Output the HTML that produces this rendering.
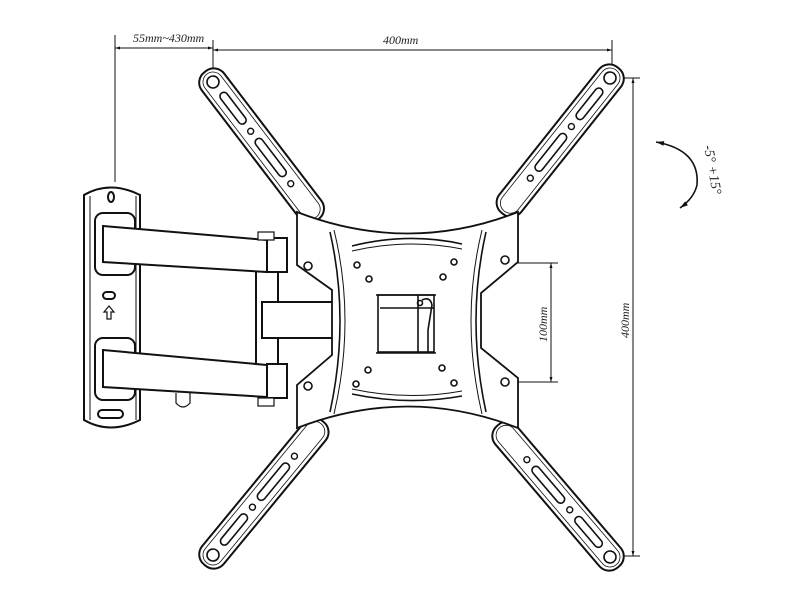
<!DOCTYPE html>
<html><head><style>body{margin:0;background:#fff}svg{display:block}text{font-family:"Liberation Serif",serif;font-style:italic;font-size:12px;fill:#222}</style></head>
<body>
<svg width="800" height="600" viewBox="0 0 800 600" xmlns="http://www.w3.org/2000/svg">
<defs>
<marker id="ar" viewBox="0 0 10 10" refX="10" refY="5" markerWidth="8" markerHeight="5" orient="auto-start-reverse"><path d="M0,2 L10,5 L0,8z" fill="#111"/></marker>
<g id="arm">
<rect x="-13" y="-14" width="186" height="28" rx="13" fill="#fff" stroke="#111" stroke-width="2"/>
<rect x="-10" y="-10" width="180" height="20" rx="10" fill="none" stroke="#111" stroke-width="0.8"/>
<circle cx="0" cy="0" r="6" fill="none" stroke="#111" stroke-width="1.6"/>
<rect x="14" y="-4" width="38" height="8" rx="4" fill="none" stroke="#111" stroke-width="1.6"/>
<circle cx="62" cy="0" r="3" fill="none" stroke="#111" stroke-width="1.4"/>
<rect x="72" y="-4" width="46" height="8" rx="4" fill="none" stroke="#111" stroke-width="1.6"/>
<circle cx="128" cy="0" r="3" fill="none" stroke="#111" stroke-width="1.4"/>
</g>
</defs>
<g stroke="#111" fill="none" stroke-width="1">
<line x1="115" y1="35" x2="115" y2="182"/>
<line x1="213" y1="40" x2="213" y2="80"/>
<line x1="612" y1="40" x2="612" y2="72"/>
<line x1="115" y1="48" x2="213" y2="48" marker-start="url(#ar)" marker-end="url(#ar)"/>
<line x1="213" y1="50" x2="612" y2="50" marker-start="url(#ar)" marker-end="url(#ar)"/>
<line x1="612" y1="78" x2="640" y2="78"/>
<line x1="612" y1="556" x2="640" y2="556"/>
<line x1="633" y1="78" x2="633" y2="556" marker-start="url(#ar)" marker-end="url(#ar)"/>
<line x1="510" y1="263" x2="558" y2="263"/>
<line x1="510" y1="382" x2="558" y2="382"/>
<line x1="551" y1="263" x2="551" y2="382" marker-start="url(#ar)" marker-end="url(#ar)"/>
<path d="M656,142 Q700,150 697,185 Q694,198 680,208" stroke-width="1.6" marker-start="url(#ar)" marker-end="url(#ar)"/>
</g>
<text x="133" y="42">55mm~430mm</text>
<text x="383" y="44">400mm</text>
<text transform="translate(629,338) rotate(-90)">400mm</text>
<text transform="translate(547,342) rotate(-90)">100mm</text>
<text transform="translate(704,146) rotate(80)" style="font-size:14px">-5° +15°</text>

<use href="#arm" transform="translate(213,82) rotate(52.6)"/>
<use href="#arm" transform="translate(610,78) rotate(128.5)"/>
<use href="#arm" transform="translate(213,555) rotate(-50.5)"/>
<use href="#arm" transform="translate(610,557) rotate(-130.5)"/>

<g stroke="#111" fill="#fff" stroke-width="2">
<path d="M84,195 Q110,180 140,195 L140,420 Q110,435 84,420 Z"/>
<line x1="90" y1="196" x2="90" y2="420" stroke-width="1"/>
<line x1="136" y1="196" x2="136" y2="420" stroke-width="1"/>
<ellipse cx="111" cy="197" rx="3" ry="5" fill="none"/>
<rect x="103" y="292" width="12" height="7" rx="3.5" fill="none"/>
<path d="M109,306 l-5,6 h3 v7 h4 v-7 h3 z" fill="none" stroke-width="1.2"/>
<rect x="98" y="410" width="25" height="8" rx="4" fill="none"/>
<rect x="95" y="213" width="40" height="62" rx="8"/>
<rect x="95" y="338" width="40" height="62" rx="8"/>
<rect x="256" y="270" width="22" height="100"/>
<rect x="262" y="302" width="80" height="36"/>
<path d="M103,226 L267,240 L267,272 L103,262 Z"/>
<rect x="267" y="238" width="20" height="34"/>
<rect x="258" y="232" width="16" height="8" stroke-width="1.2"/>
<path d="M103,350 L267,365 L267,397 L103,387 Z"/>
<rect x="267" y="364" width="20" height="34"/>
<rect x="258" y="398" width="16" height="8" stroke-width="1.2"/>
<path d="M176,393 v10 q7,8 14,0 v-10" fill="none" stroke-width="1.2"/>
</g>

<g stroke="#111" fill="#fff" stroke-width="1.8">
<path d="M297,212 Q408,255 518,212 L518,262 L481,293 L481,348 L518,378 L518,428 Q408,385 297,428 L297,385 L332,355 L332,290 L297,265 Z"/>
</g>
<g stroke="#111" fill="none" stroke-width="1.6">
<path d="M330,232 Q350,320 330,412"/><path d="M334,230 Q356,320 334,414" stroke-width="1"/>
<path d="M486,232 Q466,320 486,412"/><path d="M482,230 Q460,320 482,414" stroke-width="1"/>
<path d="M352,246 Q408,232 462,244"/><path d="M352,251 Q408,238 462,249" stroke-width="1"/>
<path d="M352,394 Q408,406 462,396"/><path d="M352,389 Q408,401 462,391" stroke-width="1"/>
<circle cx="308" cy="266" r="4"/><circle cx="308" cy="386" r="4"/>
<circle cx="505" cy="260" r="4"/><circle cx="505" cy="382" r="4"/>
<circle cx="357" cy="265" r="3"/><circle cx="454" cy="262" r="3"/>
<circle cx="369" cy="279" r="3"/><circle cx="443" cy="277" r="3"/>
<circle cx="368" cy="370" r="3"/><circle cx="442" cy="368" r="3"/>
<circle cx="356" cy="384" r="3"/><circle cx="454" cy="383" r="3"/>
<rect x="378" y="295" width="56" height="57"/>
<line x1="376" y1="295" x2="436" y2="295"/><line x1="376" y1="353" x2="436" y2="353"/>
<path d="M380,308 h54 M418,295 v57 M422,300 q8,-4 10,5 l-4,25 v22"/>
<circle cx="420" cy="303" r="2.5"/>
</g>
</svg>
</body></html>
